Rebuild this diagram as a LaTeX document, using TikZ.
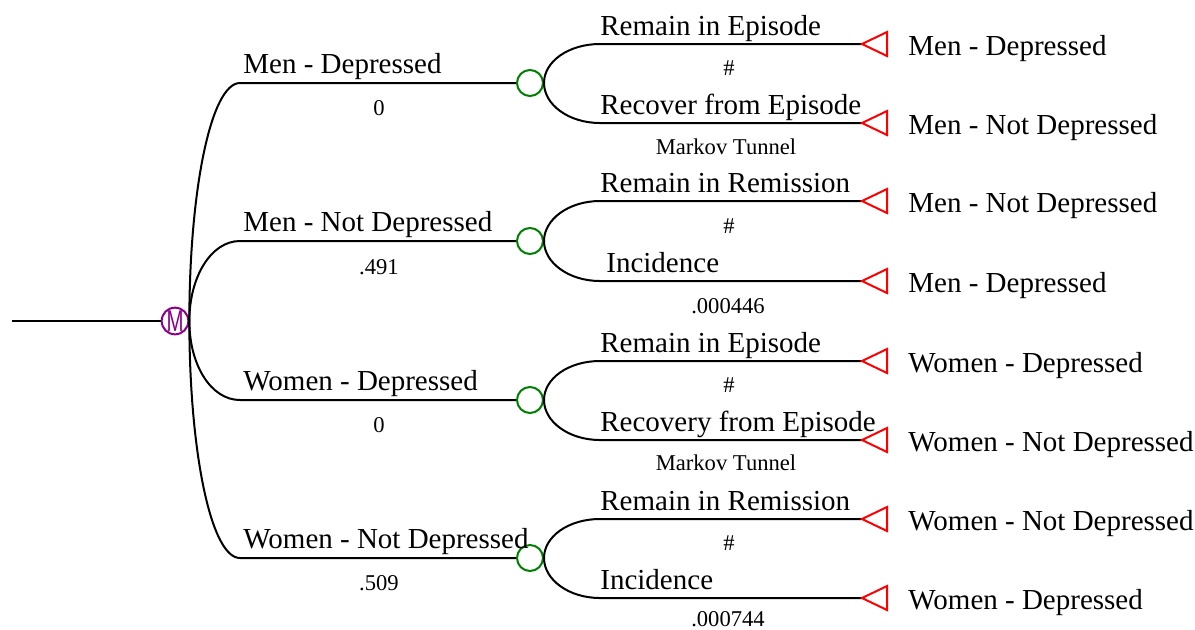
\documentclass[tikz,border=0pt]{standalone}
\usepackage{fontspec}
\setmainfont{Liberation Serif}
\setsansfont{Liberation Sans}
\usepackage{tikz}
\usetikzlibrary{positioning}
\definecolor{viola}{HTML}{8B008B}
\definecolor{verde}{HTML}{008000}
\definecolor{rosso}{HTML}{FF0000}

\begin{document}
\begin{tikzpicture}[
      x=0.5pt, y=-0.5pt,
      every node/.style={inner sep=0pt, font=\fontsize{14.5}{16}\selectfont},
      ramo/.style={draw=black, line width=1pt},
      markov/.style={circle, draw=viola, line width=1pt, minimum size=13pt, text=viola, font=\sffamily\fontsize{15}{15}\selectfont},
      caso/.style={circle, draw=verde, line width=1pt, minimum size=13pt},
      fine/.style={draw=rosso, line width=1pt, line join=miter},
      sopra/.style={anchor=base west},
      sotto/.style={anchor=base},
      piccolo/.style={anchor=base, font=\fontsize{11.3}{13}\selectfont},
      esito/.style={anchor=west, yshift=-2.5pt}
    ]
    \useasboundingbox (0,0) rectangle (1195,629);
    \coordinate (start) at (12,321);
    \coordinate (a) at (240,0);
    \coordinate (b) at (600,0);
    \node[markov] (M) at (175,321) {\scalebox{0.68}[1]{M}};
    \node[caso] (c1) at (530,83) {};
    \node[caso] (c2) at (530,241) {};
    \node[caso] (c3) at (530,400) {};
    \node[caso] (c4) at (530,558) {};
    \coordinate (t1a) at (862,44);
    \coordinate (t1b) at (862,123);
    \coordinate (t2a) at (862,201);
    \coordinate (t2b) at (862,281);
    \coordinate (t3a) at (862,361);
    \coordinate (t3b) at (862,440);
    \coordinate (t4a) at (862,519);
    \coordinate (t4b) at (862,598);

    % primo livello
    \draw[ramo] (start) -- (M.west);
    \draw[ramo] (M.east) .. controls +(0,-131) and +(-29,0) .. (a |- c1) -- (c1.west);
    \draw[ramo] (M.east) .. controls +(0,-44) and +(-29,0) .. (a |- c2) -- (c2.west);
    \draw[ramo] (M.east) .. controls +(0,44) and +(-29,0) .. (a |- c3) -- (c3.west);
    \draw[ramo] (M.east) .. controls +(0,131) and +(-29,0) .. (a |- c4) -- (c4.west);

    % secondo livello
    \draw[ramo] (c1.east) .. controls +(0,-21.5) and +(-31.5,0) .. (b |- t1a) -- (t1a);
    \draw[ramo] (c1.east) .. controls +(0,21.5) and +(-31.5,0) .. (b |- t1b) -- (t1b);
    \draw[ramo] (c2.east) .. controls +(0,-21.5) and +(-31.5,0) .. (b |- t2a) -- (t2a);
    \draw[ramo] (c2.east) .. controls +(0,21.5) and +(-31.5,0) .. (b |- t2b) -- (t2b);
    \draw[ramo] (c3.east) .. controls +(0,-21.5) and +(-31.5,0) .. (b |- t3a) -- (t3a);
    \draw[ramo] (c3.east) .. controls +(0,21.5) and +(-31.5,0) .. (b |- t3b) -- (t3b);
    \draw[ramo] (c4.east) .. controls +(0,-21.5) and +(-31.5,0) .. (b |- t4a) -- (t4a);
    \draw[ramo] (c4.east) .. controls +(0,21.5) and +(-31.5,0) .. (b |- t4b) -- (t4b);

    % nodi terminali
    \draw[fine] (t1a) -- ++(25,-12) -- ++(0,24) -- cycle;
    \draw[fine] (t1b) -- ++(25,-12) -- ++(0,24) -- cycle;
    \draw[fine] (t2a) -- ++(25,-12) -- ++(0,24) -- cycle;
    \draw[fine] (t2b) -- ++(25,-12) -- ++(0,24) -- cycle;
    \draw[fine] (t3a) -- ++(25,-12) -- ++(0,24) -- cycle;
    \draw[fine] (t3b) -- ++(25,-12) -- ++(0,24) -- cycle;
    \draw[fine] (t4a) -- ++(25,-12) -- ++(0,24) -- cycle;
    \draw[fine] (t4b) -- ++(25,-12) -- ++(0,24) -- cycle;
    \node[esito, right=23pt of t1a] (e1a) {Men - Depressed};
    \node[esito, right=23pt of t1b] (e1b) {Men - Not Depressed};
    \node[esito, right=23pt of t2a] (e2a) {Men - Not Depressed};
    \node[esito, right=23pt of t2b] (e2b) {Men - Depressed};
    \node[esito, right=23pt of t3a] (e3a) {Women - Depressed};
    \node[esito, right=23pt of t3b] (e3b) {Women - Not Depressed};
    \node[esito, right=23pt of t4a] (e4a) {Women - Not Depressed};
    \node[esito, right=23pt of t4b] (e4b) {Women - Depressed};

    % etichette
    \node[sopra] (l1) at (243,73) {Men - Depressed};
    \node[sotto] (p1) at (379,115) {\fontsize{11.3}{13}\selectfont 0};
    \node[sopra] (l2) at (243,231) {Men - Not Depressed};
    \node[sotto] (p2) at (379,274) {\fontsize{11.3}{13}\selectfont .491};
    \node[sopra] (l3) at (243,390) {Women - Depressed};
    \node[sotto] (p3) at (379,432) {\fontsize{11.3}{13}\selectfont 0};
    \node[sopra] (l4) at (243,548) {Women - Not Depressed};
    \node[sotto] (p4) at (379,590) {\fontsize{11.3}{13}\selectfont .509};

    \node[sopra] (l1a) at (600,35) {Remain in Episode};
    \node[piccolo] (p1a) at (729,75) {\#};
    \node[sopra] (l1b) at (600,114) {Recover from Episode};
    \node[piccolo] (p1b) at (726,154) {Markov Tunnel};
    \node[sopra] (l2a) at (600,192) {Remain in Remission};
    \node[piccolo] (p2a) at (729,233) {\#};
    \node[sopra] (l2b) at (606,272) {Incidence};
    \node[piccolo] (p2b) at (728,313) {.000446};
    \node[sopra] (l3a) at (600,352) {Remain in Episode};
    \node[piccolo] (p3a) at (729,392) {\#};
    \node[sopra] (l3b) at (600,431) {Recovery from Episode};
    \node[piccolo] (p3b) at (726,470) {Markov Tunnel};
    \node[sopra] (l4a) at (600,510) {Remain in Remission};
    \node[piccolo] (p4a) at (729,550) {\#};
    \node[sopra] (l4b) at (600,589) {Incidence};
    \node[piccolo] (p4b) at (728,626) {.000744};
  \end{tikzpicture}
\end{document}
